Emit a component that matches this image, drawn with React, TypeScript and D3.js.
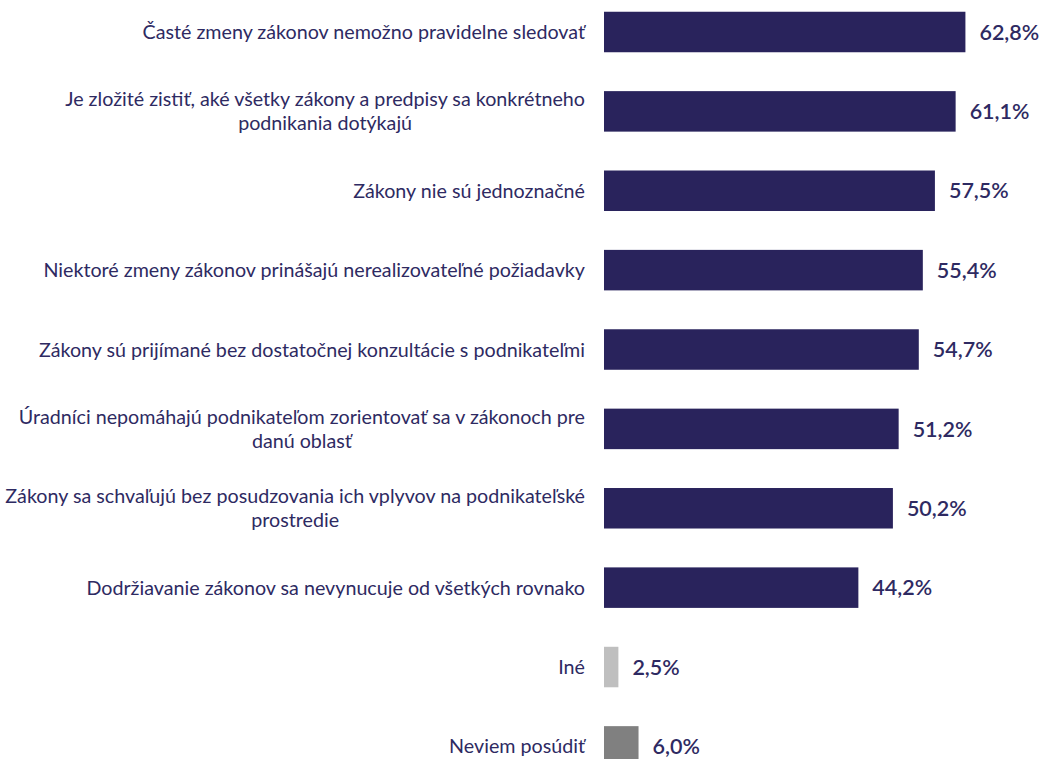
import React, { useEffect, useRef } from "react";
import * as d3 from "d3";

const categories: string[] = [
  "Časté zmeny zákonov nemožno pravidelne sledovať",
  "Je zložité zistiť, aké všetky zákony a predpisy sa konkrétneho\npodnikania dotýkajú",
  "Zákony nie sú jednoznačné",
  "Niektoré zmeny zákonov prinášajú nerealizovateľné požiadavky",
  "Zákony sú prijímané bez dostatočnej konzultácie s podnikateľmi",
  "Úradníci nepomáhajú podnikateľom zorientovať sa v zákonoch pre\ndanú oblasť",
  "Zákony sa schvaľujú bez posudzovania ich vplyvov na podnikateľské\nprostredie",
  "Dodržiavanie zákonov sa nevynucuje od všetkých rovnako",
  "Iné",
  "Neviem posúdiť",
];
const values: number[] = [62.8, 61.1, 57.5, 55.4, 54.7, 51.2, 50.2, 44.2, 2.5, 6.0];
const barColors: string[] = [
  "#29235C", "#29235C", "#29235C", "#29235C", "#29235C",
  "#29235C", "#29235C", "#29235C", "#BFBFBF", "#808080",
];

const W = 1043;
const H = 759;
const FONT = "Lato, 'Open Sans', sans-serif";
const TEXT_COLOR = "#2E2A62";

export default function App() {
  const ref = useRef<SVGSVGElement | null>(null);

  useEffect(() => {
    const svg = d3.select(ref.current);
    svg.selectAll("*").remove();

    const x = d3.scaleLinear().domain([0, 100]).range([604, 604 + 575.5]);
    const y = d3
      .scalePoint<number>()
      .domain(d3.range(categories.length))
      .range([32, 746.4]);
    const barH = 40.5;
    const labelRight = 585;
    const lineH = 24;
    const labelSize = 19.7;

    const rows = categories.map((c, i) => ({ lines: c.split("\n"), v: values[i], color: barColors[i], i }));

    const g = svg.append("g");

    g.selectAll("rect.bar")
      .data(rows)
      .join("rect")
      .attr("class", "bar")
      .attr("x", x(0))
      .attr("y", (d) => (y(d.i) as number) - barH / 2)
      .attr("width", (d) => x(d.v) - x(0))
      .attr("height", barH)
      .attr("fill", (d) => d.color);

    g.selectAll("text.val")
      .data(rows)
      .join("text")
      .attr("class", "val")
      .attr("x", (d) => x(d.v) + 14)
      .attr("y", (d) => y(d.i) as number)
      .attr("dy", "0.36em")
      .attr("font-family", FONT)
      .attr("font-size", 21.5)
      .attr("font-weight", 600)
      .attr("fill", TEXT_COLOR)
      .text((d) => d3.format(".1f")(d.v).replace(".", ",") + "%");

    rows.forEach((d) => {
      const cy = y(d.i) as number;
      const n = d.lines.length;
      const first = g
        .append("text")
        .attr("x", labelRight)
        .attr("y", cy - ((n - 1) * lineH) / 2)
        .attr("dy", "0.36em")
        .attr("text-anchor", "end")
        .attr("font-family", FONT)
        .attr("font-size", labelSize)
        .attr("fill", TEXT_COLOR)
        .text(d.lines[0]);
      const w = (first.node() as SVGTextElement).getComputedTextLength();
      const center = labelRight - w / 2;
      for (let k = 1; k < n; k++) {
        g.append("text")
          .attr("x", center)
          .attr("y", cy - ((n - 1) * lineH) / 2 + k * lineH)
          .attr("dy", "0.36em")
          .attr("text-anchor", "middle")
          .attr("font-family", FONT)
          .attr("font-size", labelSize)
          .attr("fill", TEXT_COLOR)
          .text(d.lines[k]);
      }
    });
  }, []);

  return (
    <div style={{ position: "fixed", left: 0, top: 0, width: W, height: H, overflow: "hidden", background: "#fff" }}>
      <svg ref={ref} width={W} height={H} style={{ display: "block" }} />
    </div>
  );
}
